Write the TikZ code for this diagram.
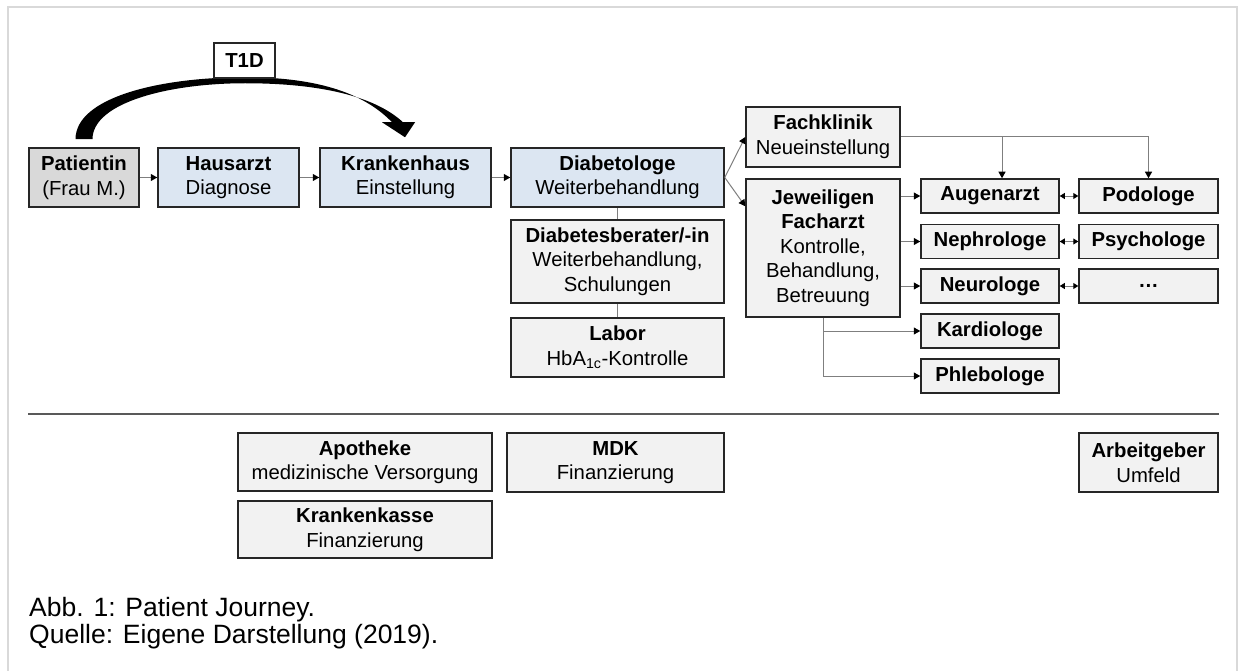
\documentclass[tikz,border=0pt]{standalone}
\usepackage{fontspec}
\setmainfont{Liberation Sans}
\usepackage{xcolor}
\usetikzlibrary{arrows.meta, positioning, calc}

\definecolor{boxfill}{HTML}{F2F2F2}
\definecolor{bluefill}{HTML}{DCE6F2}
\definecolor{patfill}{HTML}{D9D9D9}
\definecolor{boxline}{HTML}{262626}
\definecolor{connline}{HTML}{7F7F7F}
\definecolor{sepline}{HTML}{595959}
\definecolor{framegray}{HTML}{D9D9D9}

\begin{document}
\begin{tikzpicture}[x=1pt, y=-1pt,
  box/.style   = {rectangle, draw=boxline, line width=1.5pt, fill=boxfill,
                  align=center, inner sep=0pt,
                  font=\fontsize{20.3}{24.5}\selectfont},
  bluebox/.style = {box, fill=bluefill},
  spec/.style  = {box, minimum width=138pt, minimum height=34pt},
  conn/.style  = {draw=connline, line width=1pt,
                  -{Triangle[length=6.5pt, width=7pt, color=black]}},
  dconn/.style = {draw=connline, line width=1pt,
                  {Triangle[length=5pt, width=6pt, color=black]}-{Triangle[length=5pt, width=6pt, color=black]}},
  link/.style  = {draw=connline, line width=1pt},
  capline/.style = {anchor=base west, inner sep=0pt,
                  font=\fontsize{26.5}{30}\selectfont},
]
\useasboundingbox (0,0) rectangle (1238,671);
% ── frame ──
\draw[framegray, line width=2pt] (8,700) -- (8,7) -- (1237,7) -- (1237,700);

% ── main path ──
\node[box, fill=patfill, minimum width=110pt, minimum height=59pt] (pat) at (84,177.5)
  {\textbf{Patientin}\\(Frau M.)};
\node[bluebox, minimum width=141pt, minimum height=59pt] (haus) at (228.5,177.5)
  {\textbf{Hausarzt}\\Diagnose};
\node[bluebox, minimum width=171pt, minimum height=59pt] (kh) at (405.5,177.5)
  {\textbf{Krankenhaus}\\Einstellung};
\node[bluebox, minimum width=213pt, minimum height=59pt] (dia) at (617.5,177.5)
  {\textbf{Diabetologe}\\Weiterbehandlung};
\node[box, minimum width=213pt, minimum height=83pt] (ber) at (617.5,261.5)
  {\textbf{Diabetesberater/-in}\\Weiterbehandlung,\\Schulungen};
\node[box, minimum width=213pt, minimum height=59pt] (lab) at (617.5,347.5)
  {\textbf{Labor}\\HbA\textsubscript{1c}-Kontrolle};

\draw[conn] (pat.east) -- (haus.west);
\draw[conn] (haus.east) -- (kh.west);
\draw[conn] (kh.east) -- (dia.west);
\draw[link] (dia.south) -- (ber.north);
\draw[link] (ber.south) -- (lab.north);

% ── T1D shortcut ──
\begin{scope}[shift={(pat.north)}]
\fill[black] (-8.5,-8) .. controls (-8.5,-50) and (76,-70) .. (161,-70)
  .. controls (236,-70) and (281,-53) .. (308,-25) -- (298,-25) -- (321,-10)
  -- (331,-25) -- (319,-25) .. controls (291,-51) and (236,-64) .. (161,-64)
  .. controls (86,-64) and (8.5,-45) .. (8.5,-8) -- cycle;
\end{scope}
\node[box, fill=white, minimum width=61pt, minimum height=35pt] (t1d) at (244.5,60.5)
  {\textbf{T1D}};

% ── specialists ──
\node[box, minimum width=154pt, minimum height=60pt] (fk) at (823,137)
  {\textbf{Fachklinik}\\Neueinstellung};
\node[box, minimum width=154pt, minimum height=138pt] (fa) at (823,248)
  {\textbf{Jeweiligen}\\\textbf{Facharzt}\\Kontrolle,\\Behandlung,\\Betreuung};
\draw[conn] (dia.east) -- (fk.west);
\draw[conn] (dia.east) -- ($(fa.north west)+(0,28)$);

\foreach \nm/\txt/\y in {aug/Augenarzt/196, neph/Nephrologe/241.5,
                         neu/Neurologe/286, kar/Kardiologe/331, phl/Phlebologe/376}
  \node[spec] (\nm) at (990,\y) {\textbf{\txt}};
\foreach \nm/\txt/\y in {pod/Podologe/196, psy/Psychologe/241.5, dots/…/286}
  \node[spec, minimum width=139pt] (\nm) at (1148.5,\y) {\textbf{\txt}};

\foreach \nm in {aug, neph, neu}
  \draw[conn] (fa.east |- \nm.west) -- (\nm.west);
\foreach \a/\b in {aug/pod, neph/psy, neu/dots}
  \draw[dconn] (\a.east) -- (\b.west);
\draw[conn] (fa.south) |- (kar.west);
\draw[conn] (fa.south) |- (phl.west);
\draw[conn] (fk.east) -| (pod.north);
\draw[conn] ($(fk.east -| aug.north)+(12,0)$) -- ($(aug.north)+(12,0)$);

% ── separator ──
\draw[sepline, line width=1.3pt] (pat.west |- 0,414) -- (pod.east |- 0,414);

% ── environment ──
\node[box, minimum width=254pt, minimum height=58pt] (apo) at (365,462)
  {\textbf{Apotheke}\\medizinische Versorgung};
\node[box, minimum width=217pt, minimum height=59pt] (mdk) at (615.5,462.5)
  {\textbf{MDK}\\Finanzierung};
\node[box, minimum width=254pt, minimum height=57pt] (kk) at (365,529.5)
  {\textbf{Krankenkasse}\\Finanzierung};
\node[box, minimum width=139pt, minimum height=59pt] (arb) at (1148.5,462.5)
  {\textbf{Arbeitgeber}\\Umfeld};

% ── caption ──
\node[capline] (cap1) at (29,616) {Abb. 1: Patient Journey.};
\node[capline] (cap2) at (29,643) {Quelle: Eigene Darstellung (2019).};
\end{tikzpicture}
\end{document}
